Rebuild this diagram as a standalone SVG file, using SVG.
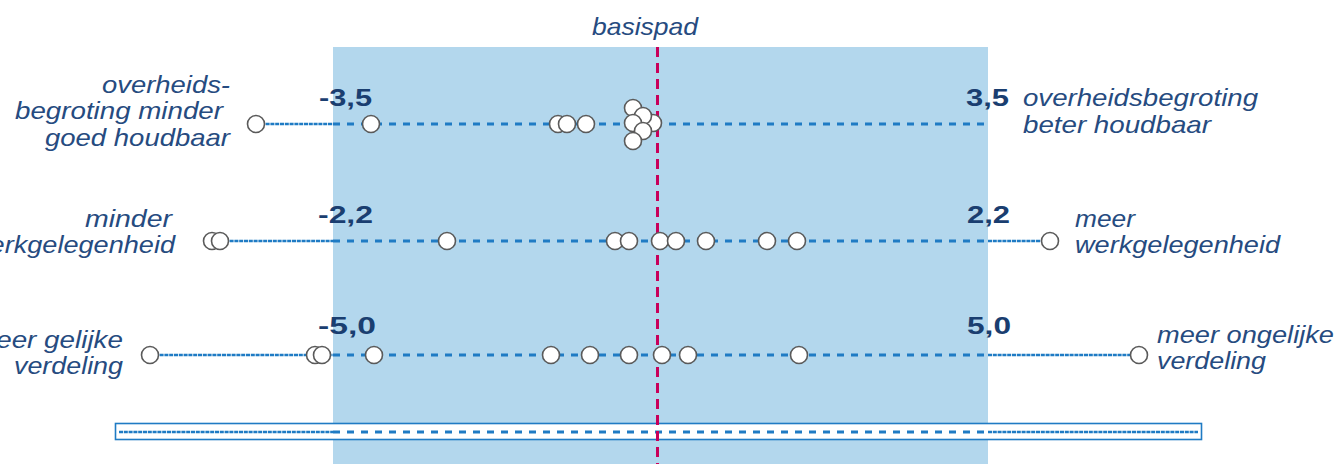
<svg xmlns="http://www.w3.org/2000/svg" width="1339" height="464" viewBox="0 0 1339 464">
<style>
.lbl{font-family:"Liberation Sans",Arial,sans-serif;font-style:italic;font-size:24px;fill:#264b80}
.num{font-family:"Liberation Sans",Arial,sans-serif;font-weight:bold;font-size:23px;fill:#1a3e70}
.fine{stroke:#1f7bc4;stroke-width:2.4;stroke-dasharray:4 0.8;fill:none}
.dash{stroke:#1f7bc4;stroke-width:3;stroke-dasharray:7 7;fill:none}
.pt{fill:#fff;stroke:#5a5a5a;stroke-width:1.6}
</style>
<rect id="band" x="333" y="47" width="655" height="417" fill="#b3d7ed"/>
<g id="connectors">
<line class="fine" x1="256" y1="124" x2="333" y2="124"/>
<line class="dash" x1="333" y1="124" x2="988" y2="124"/>
<line class="fine" x1="220" y1="241" x2="333" y2="241"/>
<line class="dash" x1="333" y1="241" x2="988" y2="241"/>
<line class="fine" x1="988" y1="241" x2="1050" y2="241"/>
<line class="fine" x1="150" y1="355" x2="333" y2="355"/>
<line class="dash" x1="333" y1="355" x2="988" y2="355"/>
<line class="fine" x1="988" y1="355" x2="1139" y2="355"/>
</g>
<g id="legend">
<rect x="115.5" y="423.5" width="1086" height="16" fill="#fff" stroke="#1f7bc4" stroke-width="1.6"/>
<line class="fine" x1="119" y1="432" x2="333" y2="432"/>
<line class="dash" x1="333" y1="432" x2="988" y2="432"/>
<line class="fine" x1="988" y1="432" x2="1198" y2="432"/>
</g>
<g id="basispad">
<line x1="657.5" y1="47" x2="657.5" y2="464" stroke="#c8005a" stroke-width="3" stroke-dasharray="10 6"/>
<text class="lbl" x="592" y="35" textLength="106" lengthAdjust="spacingAndGlyphs">basispad</text>
</g>
<g id="row-begroting">
<text class="lbl" text-anchor="end" x="230" y="93" textLength="128" lengthAdjust="spacingAndGlyphs">overheids-</text>
<text class="lbl" text-anchor="end" x="223" y="119" textLength="208" lengthAdjust="spacingAndGlyphs">begroting minder</text>
<text class="lbl" text-anchor="end" x="230" y="146" textLength="185" lengthAdjust="spacingAndGlyphs">goed houdbaar</text>
<text class="lbl" x="1023" y="106" textLength="235" lengthAdjust="spacingAndGlyphs">overheidsbegroting</text>
<text class="lbl" x="1023" y="133" textLength="188" lengthAdjust="spacingAndGlyphs">beter houdbaar</text>
<text class="num" x="319" y="106" textLength="53" lengthAdjust="spacingAndGlyphs">-3,5</text>
<text class="num" x="966" y="106" textLength="43" lengthAdjust="spacingAndGlyphs">3,5</text>
<circle class="pt" cx="256" cy="124" r="8.5"/>
<circle class="pt" cx="371" cy="124" r="8.5"/>
<circle class="pt" cx="558" cy="124" r="8.5"/>
<circle class="pt" cx="567" cy="124" r="8.5"/>
<circle class="pt" cx="586" cy="124" r="8.5"/>
<circle class="pt" cx="653" cy="123" r="8.5"/>
<circle class="pt" cx="633" cy="108" r="8.5"/>
<circle class="pt" cx="643" cy="116" r="8.5"/>
<circle class="pt" cx="633" cy="123" r="8.5"/>
<circle class="pt" cx="643" cy="131" r="8.5"/>
<circle class="pt" cx="633" cy="141" r="8.5"/>
</g>
<g id="row-werkgelegenheid">
<text class="lbl" text-anchor="end" x="172" y="227" textLength="87" lengthAdjust="spacingAndGlyphs">minder</text>
<text class="lbl" text-anchor="end" x="175" y="253" textLength="205" lengthAdjust="spacingAndGlyphs">werkgelegenheid</text>
<text class="lbl" x="1075" y="227" textLength="60" lengthAdjust="spacingAndGlyphs">meer</text>
<text class="lbl" x="1075" y="253" textLength="205" lengthAdjust="spacingAndGlyphs">werkgelegenheid</text>
<text class="num" x="318" y="223" textLength="55" lengthAdjust="spacingAndGlyphs">-2,2</text>
<text class="num" x="967" y="223" textLength="43" lengthAdjust="spacingAndGlyphs">2,2</text>
<circle class="pt" cx="212" cy="241" r="8.5"/>
<circle class="pt" cx="220" cy="241" r="8.5"/>
<circle class="pt" cx="447" cy="241" r="8.5"/>
<circle class="pt" cx="615" cy="241" r="8.5"/>
<circle class="pt" cx="629" cy="241" r="8.5"/>
<circle class="pt" cx="660" cy="241" r="8.5"/>
<circle class="pt" cx="676" cy="241" r="8.5"/>
<circle class="pt" cx="706" cy="241" r="8.5"/>
<circle class="pt" cx="767" cy="241" r="8.5"/>
<circle class="pt" cx="797" cy="241" r="8.5"/>
<circle class="pt" cx="1050" cy="241" r="8.5"/>
</g>
<g id="row-verdeling">
<text class="lbl" text-anchor="end" x="123" y="348" textLength="150" lengthAdjust="spacingAndGlyphs">meer gelijke</text>
<text class="lbl" text-anchor="end" x="123" y="374" textLength="109" lengthAdjust="spacingAndGlyphs">verdeling</text>
<text class="lbl" x="1157" y="343" textLength="177" lengthAdjust="spacingAndGlyphs">meer ongelijke</text>
<text class="lbl" x="1157" y="369" textLength="109" lengthAdjust="spacingAndGlyphs">verdeling</text>
<text class="num" x="318" y="334" textLength="58" lengthAdjust="spacingAndGlyphs">-5,0</text>
<text class="num" x="967" y="334" textLength="44" lengthAdjust="spacingAndGlyphs">5,0</text>
<circle class="pt" cx="150" cy="355" r="8.5"/>
<circle class="pt" cx="315" cy="355" r="8.5"/>
<circle class="pt" cx="322" cy="355" r="8.5"/>
<circle class="pt" cx="374" cy="355" r="8.5"/>
<circle class="pt" cx="551" cy="355" r="8.5"/>
<circle class="pt" cx="590" cy="355" r="8.5"/>
<circle class="pt" cx="629" cy="355" r="8.5"/>
<circle class="pt" cx="662" cy="355" r="8.5"/>
<circle class="pt" cx="688" cy="355" r="8.5"/>
<circle class="pt" cx="799" cy="355" r="8.5"/>
<circle class="pt" cx="1139" cy="355" r="8.5"/>
</g>
</svg>
